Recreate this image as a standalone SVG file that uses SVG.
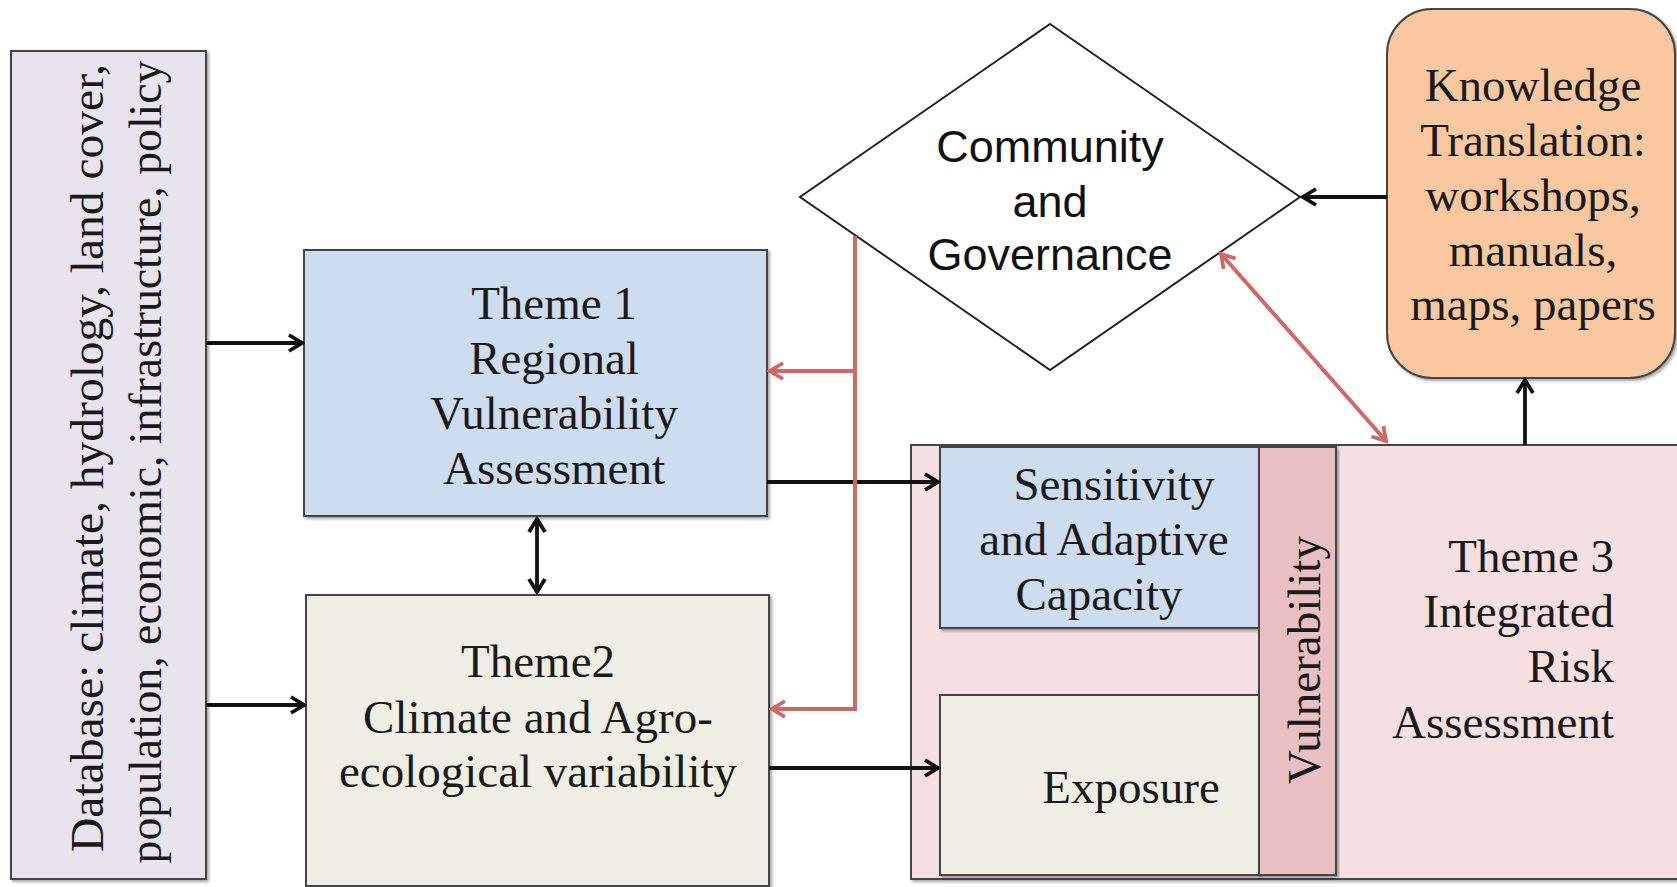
<svg xmlns="http://www.w3.org/2000/svg" width="1677" height="887" viewBox="0 0 1677 887">
<defs>
<filter id="sh" x="-5%" y="-5%" width="110%" height="110%">
<feDropShadow dx="2" dy="2" stdDeviation="1.5" flood-color="#000" flood-opacity="0.35"/>
</filter>
<marker id="ab" markerUnits="userSpaceOnUse" markerWidth="18" markerHeight="20" refX="15" refY="10" orient="auto-start-reverse" viewBox="0 0 18 20">
<path d="M2,2 L15,10 L2,18" fill="none" stroke="#111" stroke-width="3.8"/>
</marker>
<marker id="ar" markerUnits="userSpaceOnUse" markerWidth="18" markerHeight="20" refX="15" refY="10" orient="auto-start-reverse" viewBox="0 0 18 20">
<path d="M2,2 L15,10 L2,18" fill="none" stroke="#d06868" stroke-width="3.8"/>
</marker>
</defs>
<style>
.box{stroke:#454545;stroke-width:2}
.t{font-family:"Liberation Serif","Times New Roman",serif;font-size:47px;fill:#1a1a1a}
.s{font-family:"Liberation Sans",Arial,sans-serif;font-size:45px;fill:#111}
.bl{stroke:#111;stroke-width:3.8;fill:none}
.rd{stroke:#d06868;stroke-width:4;fill:none}
</style>
<rect width="1677" height="887" fill="#fff"/>

<g id="database">
<rect class="box" x="11" y="51" width="195" height="828" fill="#e7e4ee" filter="url(#sh)"/>
<text class="t" font-size="46" text-anchor="middle" transform="translate(103,458) rotate(-90)" textLength="788" lengthAdjust="spacingAndGlyphs">Database: climate, hydrology, land cover,</text>
<text class="t" font-size="46" text-anchor="middle" transform="translate(161,462) rotate(-90)" textLength="803" lengthAdjust="spacingAndGlyphs">population, economic, infrastructure, policy</text>
</g>

<g id="theme1">
<rect class="box" x="304" y="250" width="463" height="266" fill="#cddcef" filter="url(#sh)"/>
<text class="t" text-anchor="middle" x="554" y="319">Theme 1</text>
<text class="t" text-anchor="middle" x="554" y="374">Regional</text>
<text class="t" text-anchor="middle" x="554" y="429">Vulnerability</text>
<text class="t" text-anchor="middle" x="554" y="484">Assessment</text>
</g>

<g id="theme2">
<rect class="box" x="306" y="595" width="463" height="291" fill="#eeeee5" filter="url(#sh)"/>
<text class="t" text-anchor="middle" x="538" y="677">Theme2</text>
<text class="t" text-anchor="middle" x="538" y="733">Climate and Agro-</text>
<text class="t" text-anchor="middle" x="538" y="787">ecological variability</text>
</g>

<g id="community">
<polygon points="1050,24 1300,197 1050,370 800,197" fill="#fff" stroke="#222" stroke-width="2"/>
<text class="s" text-anchor="middle" x="1050" y="162">Community</text>
<text class="s" text-anchor="middle" x="1050" y="217">and</text>
<text class="s" text-anchor="middle" x="1050" y="270">Governance</text>
</g>

<g id="knowledge">
<rect class="box" x="1387" y="9" width="288" height="369" rx="45" ry="45" fill="#f9c8a0" filter="url(#sh)"/>
<text class="t" font-size="48" text-anchor="middle" x="1533" y="101">Knowledge</text>
<text class="t" font-size="48" text-anchor="middle" x="1533" y="156">Translation:</text>
<text class="t" font-size="48" text-anchor="middle" x="1533" y="211">workshops,</text>
<text class="t" font-size="48" text-anchor="middle" x="1533" y="266">manuals,</text>
<text class="t" font-size="48" text-anchor="middle" x="1533" y="320">maps, papers</text>
</g>

<g id="theme3">
<rect class="box" x="911" y="445" width="790" height="434" fill="#f5dfe1" filter="url(#sh)"/>
<text class="t" font-size="48" text-anchor="end" x="1614" y="572">Theme 3</text>
<text class="t" font-size="48" text-anchor="end" x="1614" y="627">Integrated</text>
<text class="t" font-size="48" text-anchor="end" x="1614" y="682">Risk</text>
<text class="t" font-size="48" text-anchor="end" x="1614" y="738">Assessment</text>
</g>

<g id="sensitivity">
<rect class="box" x="940" y="447" width="319" height="181" fill="#cddcef" filter="url(#sh)"/>
<text class="t" text-anchor="middle" x="1114" y="500">Sensitivity</text>
<text class="t" text-anchor="middle" x="1104" y="555">and Adaptive</text>
<text class="t" text-anchor="middle" x="1099" y="610">Capacity</text>
</g>

<g id="exposure">
<rect class="box" x="940" y="695" width="319" height="180" fill="#eeeee5" filter="url(#sh)"/>
<text class="t" text-anchor="middle" x="1131" y="803">Exposure</text>
</g>

<g id="vulnerability">
<rect class="box" x="1259" y="447" width="77" height="428" fill="#e9bfc3" filter="url(#sh)"/>
<text class="t" text-anchor="middle" transform="translate(1320,660) rotate(-90)">Vulnerability</text>
</g>

<g id="connectors">
<line class="bl" x1="206" y1="343" x2="302" y2="343" marker-end="url(#ab)"/>
<line class="bl" x1="206" y1="705" x2="304" y2="705" marker-end="url(#ab)"/>
<line class="bl" x1="767" y1="482" x2="938" y2="482" marker-end="url(#ab)"/>
<line class="bl" x1="769" y1="768" x2="938" y2="768" marker-end="url(#ab)"/>
<line class="bl" x1="537" y1="519" x2="537" y2="592" marker-start="url(#ab)" marker-end="url(#ab)"/>
<line class="bl" x1="1387" y1="197" x2="1303" y2="197" marker-end="url(#ab)"/>
<line class="bl" x1="1525" y1="445" x2="1525" y2="380" marker-end="url(#ab)"/>
<polyline class="rd" points="855,236 855,709 772,709" marker-end="url(#ar)"/>
<line class="rd" x1="855" y1="371" x2="770" y2="371" marker-end="url(#ar)"/>
<line class="rd" x1="1221" y1="254" x2="1386" y2="441" marker-start="url(#ar)" marker-end="url(#ar)"/>
</g>
</svg>
